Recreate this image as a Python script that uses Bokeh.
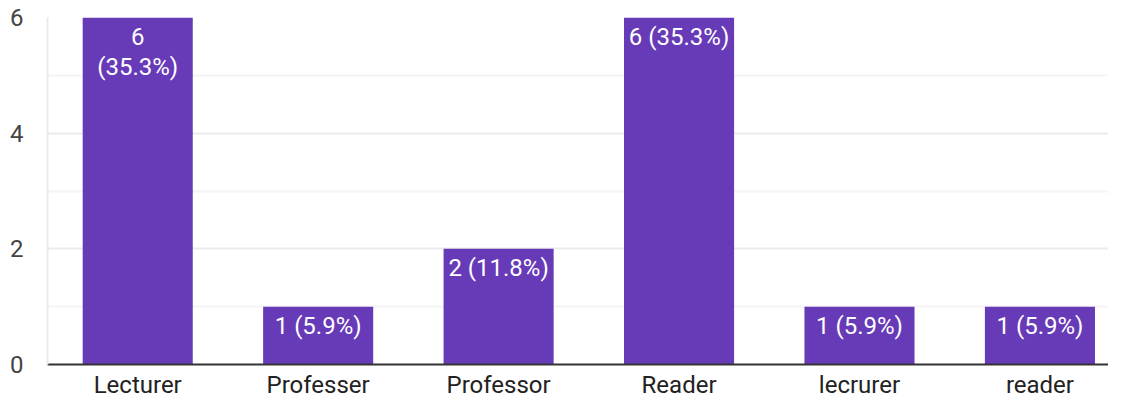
from bokeh.plotting import figure
from bokeh.models import Range1d, FixedTicker, ColumnDataSource
from bokeh.core.properties import value
from bokeh.embed import file_html
from bokeh.resources import INLINE

categories = ["Lecturer", "Professer", "Professor", "Reader", "lecrurer", "reader"]
counts = [6, 1, 2, 6, 1, 1]
bar_labels = ["6\n(35.3%)", "1 (5.9%)", "2 (11.8%)", "6 (35.3%)", "1 (5.9%)", "1 (5.9%)"]
y_ticks = [0, 2, 4, 6]
y_minor_ticks = [1, 3, 5]

xs = list(range(len(categories)))
src = ColumnDataSource(dict(x=xs, top=counts, label=bar_labels))

FONT = "Roboto"
p = figure(width=1108, height=401, output_backend="svg", toolbar_location=None,
           x_range=Range1d(-0.5, 5.38), y_range=Range1d(0, 6),
           min_border_left=47, min_border_right=0, min_border_top=17, min_border_bottom=0)
p.outline_line_color = None
p.background_fill_color = "white"
p.border_fill_color = "white"

p.vbar(x="x", top="top", bottom=0, width=0.61, source=src,
       fill_color="#673ab7", line_color=None)
p.text(x="x", y="top", text="label", source=src,
       text_font=value(FONT), text_font_size="24px", text_color="white",
       text_align="center", text_baseline="top", y_offset=5, text_line_height=1.1)

# axes
p.xaxis.ticker = FixedTicker(ticks=xs)
p.xaxis.major_label_overrides = {i: c for i, c in zip(xs, categories)}
p.xaxis.major_label_text_font = FONT
p.xaxis.major_label_text_font_size = "24px"
p.xaxis.major_label_text_line_height = 1.0
p.xaxis.major_label_text_color = "#222222"
p.xaxis.major_tick_line_color = None
p.xaxis.minor_tick_line_color = None
p.xaxis.major_tick_out = 0
p.xaxis.major_label_standoff = 6
p.xaxis.axis_line_color = "#333333"
p.xaxis.axis_line_width = 2

p.yaxis.ticker = FixedTicker(ticks=y_ticks, minor_ticks=y_minor_ticks)
p.yaxis.major_label_text_font = FONT
p.yaxis.major_label_text_font_size = "24px"
p.yaxis.major_label_text_color = "#444444"
p.yaxis.major_tick_line_color = None
p.yaxis.minor_tick_line_color = None
p.yaxis.major_tick_out = 0
p.yaxis.major_label_standoff = 20
p.yaxis.axis_line_color = "#ebebeb"
p.yaxis.axis_line_width = 2

p.xgrid.grid_line_color = None
p.ygrid.grid_line_color = "#ebebeb"
p.ygrid.grid_line_width = 2
p.ygrid.minor_grid_line_color = "#f4f4f4"
p.ygrid.minor_grid_line_width = 2

open("out.html", "w").write(file_html(p, INLINE))
